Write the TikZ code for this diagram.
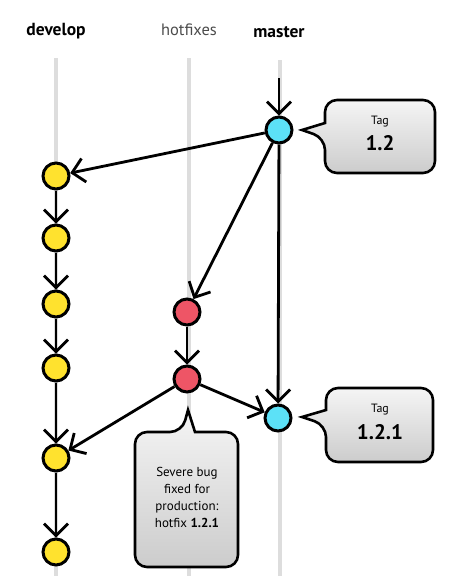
\documentclass[tikz,border=0pt]{standalone}
\usepackage{fontspec}
\setmainfont{PT Sans}
\usetikzlibrary{arrows.meta}
\definecolor{devyel}{HTML}{FFE22E}
\definecolor{mascyan}{HTML}{5CE1F7}
\definecolor{hotred}{HTML}{EE5566}
\definecolor{lane}{HTML}{DDDDDD}
\tikzset{
  commit/.style={circle, draw=black, line width=3pt, minimum size=26pt, inner sep=0pt},
  dev/.style={commit, fill=devyel},
  mas/.style={commit, fill=mascyan},
  hot/.style={commit, fill=hotred},
  arr/.style={-{Straight Barb[length=12pt,width=24pt,line width=2.8pt]}, line width=2.8pt, black},
  lanestyle/.style={draw=lane, line width=3.5pt},
  callout/.style={draw=black, line width=2.6pt, top color=gray!8, bottom color=gray!40},
  head/.style={font=\fontsize{17.5}{19}\selectfont\bfseries},
}
\begin{document}
\begin{tikzpicture}[x=1pt,y=-1pt]
\useasboundingbox (0,0) rectangle (448,576);
% lanes
\draw[lanestyle] (56,58) -- (56,576);
\draw[lanestyle] (189,58) -- (189,576);
\draw[lanestyle] (280,60) -- (280,576);
% headings
\node[head] (hdev) at (56,31) {develop};
\node[font=\fontsize{16.5}{18}\selectfont, text=black!70] (hhot) at (189,30) {hotfixes};
\node[head] (hmas) at (279,32) {master};
% callouts
\draw[callout] (380,100) [rounded corners=12pt] -- (435,100) -- (435,173) -- (325,173) -- (325,138) [sharp corners] -- (302,130) -- (325,123) [rounded corners=12pt] -- (325,100) -- cycle;
\draw[callout] (380,388) [rounded corners=12pt] -- (433,388) -- (433,462) -- (326,462) -- (326,425) [sharp corners] -- (302,417) -- (326,410) [rounded corners=12pt] -- (326,388) -- cycle;
\draw[callout] (135,500) [rounded corners=12pt] -- (135,432) -- (182,432) [sharp corners] -- (188,410) -- (195,432) [rounded corners=12pt] -- (238,432) -- (238,567) -- (135,567) -- cycle;
\node[font=\fontsize{12}{13}\selectfont] (t1a) at (380,122) {Tag};
\node[font=\fontsize{21}{22}\selectfont\bfseries] (t1b) at (380,143) {1.2};
\node[font=\fontsize{12}{13}\selectfont] (t2a) at (380,410) {Tag};
\node[font=\fontsize{21}{22}\selectfont\bfseries] (t2b) at (380,432) {1.2.1};
\node[font=\fontsize{13}{17}\selectfont, align=center] (bug) at (187,497) {Severe bug\\fixed for\\production:\\hotfix \textbf{1.2.1}};
% commits
\coordinate (mtop) at (279,78);
\node[mas] (m1) at (279,130) {};
\node[mas] (m2) at (278,418) {};
\node[dev] (d1) at (56,176) {};
\node[dev] (d2) at (56,238) {};
\node[dev] (d3) at (56,304) {};
\node[dev] (d4) at (56,368) {};
\node[dev] (d5) at (56,458) {};
\node[dev] (d6) at (56,552) {};
\node[hot] (h1) at (187,312) {};
\node[hot] (h2) at (187,379) {};
% connectors
\draw[arr] (mtop) -- (m1);
\draw[arr] (m1) -- (d1);
\draw[arr] (m1) -- (h1);
\draw[arr] (m1) -- (m2);
\draw[arr] (d1) -- (d2);
\draw[arr] (d2) -- (d3);
\draw[arr] (d3) -- (d4);
\draw[arr] (d4) -- (d5);
\draw[arr] (d5) -- (d6);
\draw[arr] (h1) -- (h2);
\draw[arr] (h2) -- (m2);
\draw[arr] (h2) -- (d5);
\end{tikzpicture}
\end{document}
